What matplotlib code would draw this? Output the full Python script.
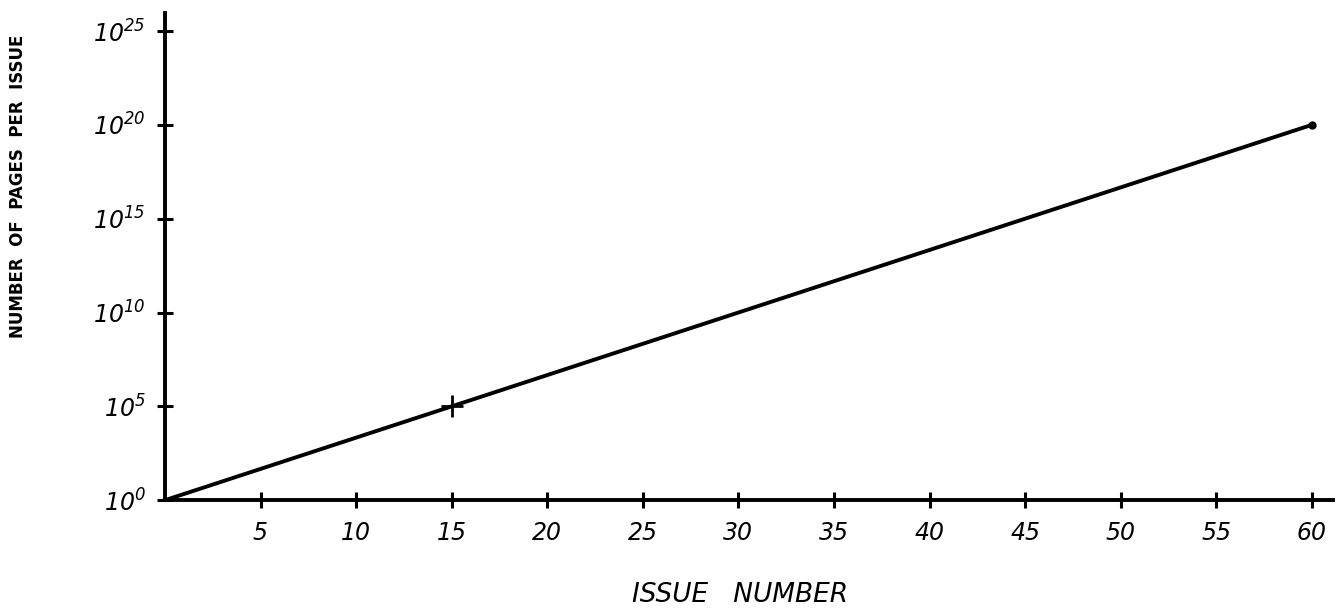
import math
import matplotlib
matplotlib.use("Agg")
import matplotlib.pyplot as plt
from matplotlib.ticker import FixedLocator, FuncFormatter

# pages per issue grows tenfold every 3 issues
issue = [0, 15, 60]
pages = [1e0, 1e5, 1e20]
marked_issue = [15]
marked_pages = [1e5]

x_ticks = [5, 10, 15, 20, 25, 30, 35, 40, 45, 50, 55, 60]
y_ticks = [1e0, 1e5, 1e10, 1e15, 1e20, 1e25]

plt.rcParams['font.family'] = ['DejaVu Sans']
plt.rcParams['font.style'] = 'italic'
plt.rcParams['mathtext.fontset'] = 'dejavusans'
plt.rcParams['mathtext.default'] = 'it'

fig = plt.figure(figsize=(13.4, 6.1), dpi=100)
ax = fig.add_axes([0.1231, 0.180, 0.8716, 0.7984])

ax.plot(issue, pages, color='black', linewidth=2.8, solid_capstyle='round')
ax.plot(marked_issue, marked_pages, marker='+', color='black',
        markersize=16, markeredgewidth=2.0, linestyle='none')
ax.plot(issue[-1:], pages[-1:], marker='o', color='black', markersize=5)

ax.set_yscale('log')
ax.set_xlim(0, 61.1)
ax.set_ylim(1e0, 10 ** 25.95)

ax.xaxis.set_major_locator(FixedLocator(x_ticks))
ax.yaxis.set_major_locator(FixedLocator(y_ticks))
ax.yaxis.set_minor_locator(FixedLocator([]))
ax.xaxis.set_major_formatter(FuncFormatter(lambda v, p: '%d' % v))
ax.yaxis.set_major_formatter(
    FuncFormatter(lambda v, p: r'$10^{%d}$' % round(math.log10(v))))

for side in ['top', 'right']:
    ax.spines[side].set_visible(False)
for side in ['left', 'bottom']:
    ax.spines[side].set_linewidth(2.8)

ax.tick_params(axis='both', direction='inout', length=12, width=2.2)
ax.tick_params(axis='x', pad=9, labelsize=17)
ax.tick_params(axis='y', pad=8, labelsize=17)

fig.text(0.5522, 1 - 595 / 610, 'ISSUE   NUMBER', fontsize=19, ha='center',
         va='center', style='italic')
fig.text(0.0135, 1 - 186 / 610, 'NUMBER  OF  PAGES  PER  ISSUE', fontsize=12,
         rotation=90, ha='center', va='center', style='normal',
         fontweight='bold')

fig.savefig('out.png', dpi=100, facecolor='white')
